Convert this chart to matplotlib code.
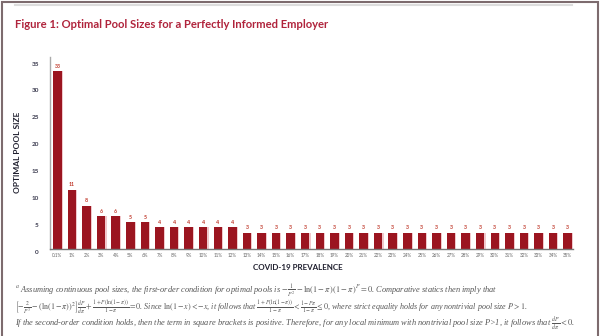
import numpy as np
import matplotlib.pyplot as plt
import matplotlib.transforms as mtransforms
from matplotlib.patches import Rectangle
from matplotlib.lines import Line2D

prevalence = ['0.1%'] + [f'{i}%' for i in range(1, 36)]
pool_sizes = [33, 11, 8, 6, 6, 5, 5, 4, 4, 4, 4, 4, 4,
              3, 3, 3, 3, 3, 3, 3, 3, 3, 3, 3, 3, 3, 3, 3,
              3, 3, 3, 3, 3, 3, 3, 3]

title_text = 'Figure 1: Optimal Pool Sizes for a Perfectly Informed Employer'
note_lines = [
    r'$^{a}$ Assuming continuous pool sizes, the first-order condition for optimal pools is '
    r'$-\frac{1}{P^2}-\ln(1-\pi)\,(1-\pi)^P=0$. Comparative statics then imply that',
    r'$\left[-\frac{2}{P^3}-(\ln(1-\pi))^2\right]\frac{dP}{d\pi}+\frac{1+P(\ln(1-\pi))}{1-\pi}=0$. '
    r'Since $\ln(1-x)<-x$, it follows that $\frac{1+P(\ln(1-\pi))}{1-\pi}<\frac{1-P\pi}{1-\pi}\leq 0$, '
    r'where strict equality holds for any nontrivial pool size $P>1$.',
    r'If the second-order condition holds, then the term in square brackets is positive. '
    r'Therefore, for any local minimum with nontrivial pool size P>1, it follows that $\frac{dP}{d\pi}<0$.',
]


def main():
    plt.rcParams['font.family'] = ['Lato', 'DejaVu Sans']
    plt.rcParams['mathtext.fontset'] = 'stix'

    fig = plt.figure(figsize=(6, 3.36), dpi=100)
    ax = fig.add_axes([0.0833, 0.26, 0.872, 0.571])

    x = np.arange(len(prevalence))
    # light edge to the right of every bar, like the printed chart
    ax.bar(x + 0.08, pool_sizes, width=0.58, color='#f0c8cc', zorder=1)
    bars = ax.bar(x, pool_sizes, width=0.58, color='#9b1520', zorder=2)
    for rect, v in zip(bars, pool_sizes):
        ax.text(rect.get_x() + rect.get_width() / 2, v + 0.4, str(v),
                ha='center', va='bottom', fontsize=3.8, fontweight='bold', color='#c0392b')

    ax.set_xlim(-0.51, 35.38)
    ax.set_ylim(0, 35.7)
    ax.set_yticks(range(0, 36, 5))
    ax.set_xticks(x)
    ax.set_xticklabels(prevalence, fontsize=3.3, color='#666666')
    ax.tick_params(axis='y', length=0, pad=8, labelsize=4.6, labelcolor='#3b3b4f')
    ax.tick_params(axis='x', length=0, pad=3)
    shift = mtransforms.ScaledTranslation(0, -3 / 100, fig.dpi_scale_trans)
    for lab in ax.get_yticklabels():
        lab.set_fontweight('bold')
        lab.set_transform(lab.get_transform() + shift)

    for side in ['top', 'right']:
        ax.spines[side].set_visible(False)
    ax.spines['left'].set_color('#aaaaaa')
    ax.spines['bottom'].set_color('#777777')
    ax.spines['left'].set_linewidth(1.0)
    ax.spines['bottom'].set_linewidth(1.0)

    fig.text(18 / 600, 1 - 152 / 336, 'OPTIMAL POOL SIZE', rotation=90, ha='center', va='center',
             fontsize=6, fontweight='bold', color='#1f1f2e')
    fig.text(298 / 600, 1 - 267 / 336, 'COVID-19 PREVALENCE', ha='center', va='center',
             fontsize=5.8, fontweight='bold', color='#1f1f2e')

    fig.text(15 / 600, 1 - 24 / 336, title_text, ha='left', va='center',
             fontsize=8.15, fontweight='bold', color='#b0243c')

    ys = [291, 307, 324]
    sizes = [6.0, 5.8, 6.0]
    for line, y, fs in zip(note_lines, ys, sizes):
        fig.text(15 / 600, 1 - y / 336, line, ha='left', va='center', fontsize=fs,
                 family='Liberation Serif', style='italic', color='#555555')

    fig.add_artist(Line2D([15 / 600, 572 / 600], [1 - 5 / 336, 1 - 5 / 336],
                          transform=fig.transFigure, color='#dddddd', lw=1.5))
    fig.add_artist(Rectangle((1.5 / 600, -0.01), 596.5 / 600, 1.0055, transform=fig.transFigure,
                             fill=False, edgecolor='#7d6b6e', lw=1.5))

    fig.savefig('out.png', dpi=100)


if __name__ == '__main__':
    main()
